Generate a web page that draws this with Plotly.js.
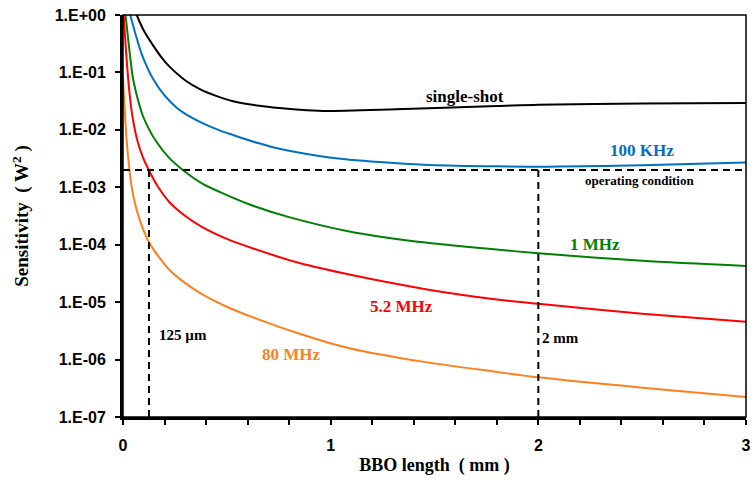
<!DOCTYPE html>
<html>
<head>
<meta charset="utf-8">
<script src="https://cdn.plot.ly/plotly-3.0.1.min.js"></script>
<style>html,body{margin:0;padding:0;background:#fff;}#chart{width:753px;height:495px;}</style>
</head>
<body>
<div id="chart"></div>
<script>
// ---- data (BBO length in mm, sensitivity in W^2) ----
const singleShotX = [0.066, 0.1, 0.143, 0.19, 0.224, 0.304, 0.37, 0.465, 0.53, 0.657, 0.753, 0.85, 0.96, 1.315, 1.8, 2.0, 2.5, 3.0];
const singleShotY = [1.0, 0.537, 0.302, 0.174, 0.126, 0.0708, 0.0513, 0.0372, 0.0316, 0.0263, 0.0240, 0.0224, 0.0214, 0.0229, 0.0260, 0.0275, 0.0288, 0.0295];

const khz100X = [0.035, 0.06, 0.09, 0.143, 0.2, 0.26, 0.304, 0.37, 0.465, 0.53, 0.65, 0.753, 0.994, 1.235, 1.476, 1.8, 2.1, 2.5, 3.0];
const khz100Y = [1.0, 0.468, 0.209, 0.0794, 0.0398, 0.0240, 0.0186, 0.0138, 0.00977, 0.00813, 0.00589, 0.00468, 0.00331, 0.00275, 0.00245, 0.00232, 0.00229, 0.00243, 0.00269];

const mhz1X = [0.012, 0.031, 0.047, 0.07, 0.095, 0.124, 0.152, 0.22, 0.288, 0.38, 0.465, 0.61, 0.8, 1.09, 1.4, 1.76, 2.0, 2.5, 3.0];
const mhz1Y = [1.0, 0.240, 0.0832, 0.0355, 0.0178, 0.0105, 0.00692, 0.00331, 0.00200, 0.00117, 0.000832, 0.000501, 0.000302, 0.000170, 0.000115, 0.0000851, 0.0000708, 0.0000525, 0.0000427];

const mhz52X = [0.003, 0.015, 0.031, 0.047, 0.07, 0.095, 0.124, 0.17, 0.224, 0.3, 0.384, 0.5, 0.63, 0.85, 1.09, 1.45, 1.81, 2.0, 2.5, 3.0];
const mhz52Y = [1.0, 0.224, 0.0447, 0.0158, 0.00631, 0.00339, 0.00200, 0.00100, 0.000550, 0.000316, 0.000200, 0.000126, 0.0000851, 0.0000479, 0.0000302, 0.0000170, 0.0000110, 0.00000933, 0.00000631, 0.00000457];

const mhz80X = [0.0, 0.015, 0.031, 0.04, 0.055, 0.079, 0.12, 0.17, 0.224, 0.3, 0.384, 0.5, 0.63, 0.85, 1.09, 1.45, 1.81, 2.0, 2.5, 3.0];
const mhz80Y = [0.0851, 0.00871, 0.00200, 0.00112, 0.000575, 0.000282, 0.000120, 0.0000631, 0.0000363, 0.0000214, 0.0000135, 0.00000832, 0.00000537, 0.00000282, 0.00000158, 0.000000912, 0.000000603, 0.000000490, 0.000000324, 0.000000224];

// reference lines
const opLevel = 0.002;          // operating condition sensitivity
const opLengths = [0.125, 2.0]; // 125 µm and 2 mm
const xSpan = [0, 3];
const yFloor = 1e-7;

// tick labels
const yTickVals = [1, 0.1, 0.01, 0.001, 0.0001, 0.00001, 0.000001, 0.0000001];
const yTickText = ['1.E+00', '1.E-01', '1.E-02', '1.E-03', '1.E-04', '1.E-05', '1.E-06', '1.E-07'];
const xTickVals = [0, 1, 2, 3];
const xTickText = ['0', '1', '2', '3'];

const seriesNames = ['single-shot', '100 KHz', '1 MHz', '5.2 MHz', '80 MHz'];
const seriesColors = ['#000000', '#0070C0', '#008000', '#FF0000', '#FF7F1E'];
const seriesX = [singleShotX, khz100X, mhz1X, mhz52X, mhz80X];
const seriesY = [singleShotY, khz100Y, mhz1Y, mhz52Y, mhz80Y];

const traces = seriesNames.map((n, i) => ({
  type: 'scatter', mode: 'lines', name: n,
  x: seriesX[i], y: seriesY[i],
  line: {color: seriesColors[i], width: 2, shape: 'spline', smoothing: 0.8},
  hoverinfo: 'skip'
}));

const dashLine = {color: '#000', width: 2, dash: '7px,5px'};
traces.push({type: 'scatter', mode: 'lines', name: 'operating condition', x: xSpan, y: [opLevel, opLevel], line: dashLine, hoverinfo: 'skip'});
opLengths.forEach(L => traces.push({type: 'scatter', mode: 'lines', name: 'L=' + L, x: [L, L], y: [yFloor, opLevel], line: dashLine, hoverinfo: 'skip'}));

const serif = '"Times New Roman", "Liberation Serif", serif';
const sans = 'Arial, "Liberation Sans", sans-serif';
const lg = v => Math.log10(v);

function ann(text, x, yv, color, size) {
  return {text: text, x: x, y: lg(yv), xref: 'x', yref: 'y', showarrow: false,
          xanchor: 'center', yanchor: 'middle',
          font: {family: serif, size: size, color: color, weight: 'bold'}};
}

const layout = {
  width: 753, height: 495,
  margin: {l: 123, r: 7, t: 15, b: 78},
  paper_bgcolor: '#fff', plot_bgcolor: '#fff',
  showlegend: false,
  xaxis: {
    range: [0, 3], tickvals: xTickVals, ticktext: xTickText,
    ticks: 'outside', ticklen: 5, tickwidth: 2, tickcolor: '#000',
    minor: {dtick: 0.2, ticks: 'outside', ticklen: 5, tickwidth: 2, tickcolor: '#000'},
    showline: true, linewidth: 3, linecolor: '#000', showgrid: false, zeroline: false,
    ticklabelstandoff: 7,
    tickfont: {family: sans, size: 16, color: '#000', weight: 'bold'},
    title: {text: 'BBO length  ( mm )', standoff: 6, font: {family: serif, size: 18, color: '#000', weight: 'bold'}}
  },
  yaxis: {
    type: 'log', range: [-7, 0], tickvals: yTickVals, ticktext: yTickText,
    ticks: 'outside', ticklen: 5, tickwidth: 2, tickcolor: '#000',
    showline: true, linewidth: 3, linecolor: '#000', showgrid: false, zeroline: false,
    ticklabelstandoff: 6,
    tickfont: {family: sans, size: 16, color: '#000', weight: 'bold'},
    title: {text: 'Sensitivity  ( W<sup>2</sup> )', standoff: 21, font: {family: serif, size: 19, color: '#000', weight: 'bold'}}
  },
  shapes: [{type: 'rect', xref: 'paper', yref: 'paper', x0: 0, x1: 1, y0: 0, y1: 1, line: {color: '#000', width: 1.5}}],
  annotations: [
    ann('single-shot', 1.649, 0.0384, '#000', 17),
    ann('100 KHz', 2.50, 0.00443, seriesColors[1], 17),
    ann('operating condition', 2.489, 0.00133, '#000', 13),
    ann('1 MHz', 2.275, 0.000102, seriesColors[2], 17),
    ann('5.2 MHz', 1.341, 0.0000084, seriesColors[3], 17),
    ann('80 MHz', 0.811, 0.00000122, seriesColors[4], 17),
    ann('125 µm', 0.2865, 0.0000027, '#000', 15),
    ann('2 mm', 2.106, 0.0000024, '#000', 15)
  ]
};

Plotly.newPlot('chart', traces, layout, {staticPlot: true, displayModeBar: false});
</script>
</body>
</html>
